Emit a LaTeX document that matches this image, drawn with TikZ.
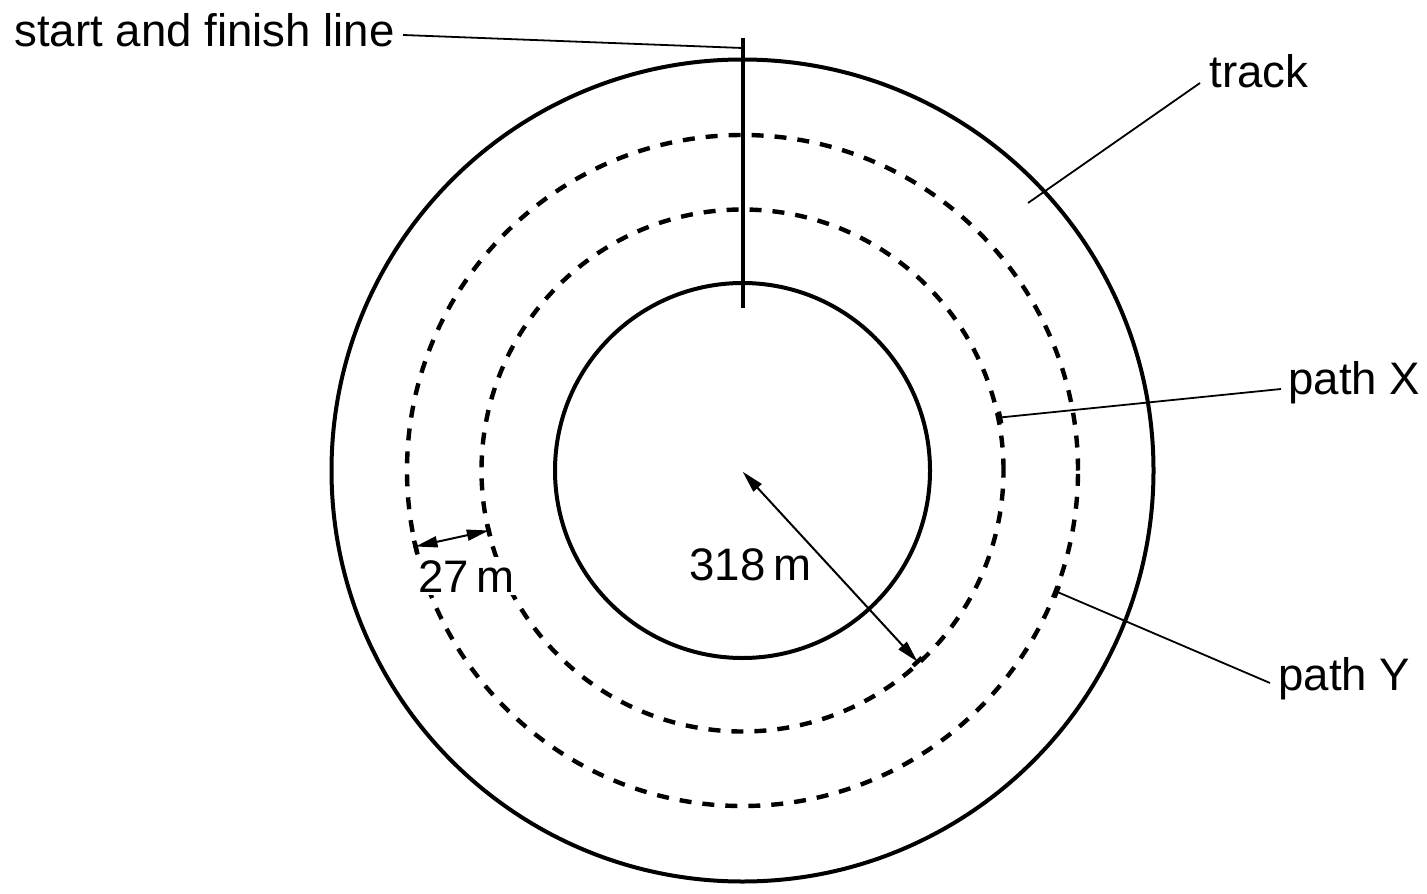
\documentclass[tikz,border=0pt]{standalone}
\usepackage{fontspec}
\setmainfont{Liberation Sans}
\usetikzlibrary{arrows.meta}
\begin{document}
\begin{tikzpicture}[x=0.5pt,y=-0.5pt,
  solidline/.style={line width=2pt},
  dashline/.style={line width=2.2pt, dash pattern=on 6pt off 5.5pt},
  leader/.style={line width=0.9pt},
  dimarrow/.style={line width=1pt, {Triangle[length=11pt,width=5.5pt]}-{Triangle[length=11pt,width=5.5pt]}},
  tickmark/.style={line width=2.2pt},
  lbl/.style={inner sep=0pt, anchor=base west, font=\fontsize{22.8pt}{27pt}\selectfont}
]
\useasboundingbox (0,0) rectangle (1427,893);
\coordinate (c) at (742.5,470.5);
% circles
\draw[solidline] (c) circle[radius=205.5pt];
\draw[solidline] (c) circle[radius=93.75pt];
\draw[dashline] (c) circle[radius=167.75pt];
\draw[dashline] (c) circle[radius=130.5pt];
% start and finish line
\coordinate (sftop) at (742.5,38);
\coordinate (sfbot) at (742.5,308);
\draw[solidline] (sftop) -- (sfbot);
% labels
\node[lbl] (lstart) at (14,47) {start and finish line};
\node[lbl] (ltrack) at (1209,88) {track};
\node[lbl] (lpathx) at (1288,394) {path X};
\node[lbl] (lpathy) at (1278,690) {path Y};
\node[lbl] (l318) at (689,580) {318\,m};
\node[lbl, fill=white, inner sep=1.5pt] (l27) at (415,592) {27\,m};
% leaders
\coordinate (lsA) at (403,35);   \coordinate (lsB) at (742.5,48);
\coordinate (ltA) at (1200,83);  \coordinate (ltB) at (1028,203);
\coordinate (lxA) at (1281,389); \coordinate (lxB) at (1000,417.5);
\coordinate (lyA) at (1270,683); \coordinate (lyB) at (1056.7,591.7);
\draw[leader] (lsA) -- (lsB);
\draw[leader] (ltA) -- (ltB);
\draw[leader] (lxA) -- (lxB);
\draw[leader] (lyA) -- (lyB);
\draw[tickmark] (998.8,411.6) -- (1001.2,423.4);
\draw[tickmark] (1058.9,586.1) -- (1054.5,597.3);
% dimension arrows
\coordinate (rA) at (742.7,471.7);
\coordinate (rB) at (917.5,661.7);
\draw[dimarrow] (rA) -- (rB);
\draw[tickmark] (913.1,665.7) -- (921.9,657.7);
\coordinate (wA) at (415.5,546.5);
\coordinate (wB) at (488.8,530.5);
\draw[dimarrow] (wA) -- (wB);
\draw[tickmark] (414.1,540.7) -- (416.9,552.3);
\draw[tickmark] (487.4,524.7) -- (490.2,536.3);
\end{tikzpicture}
\end{document}
